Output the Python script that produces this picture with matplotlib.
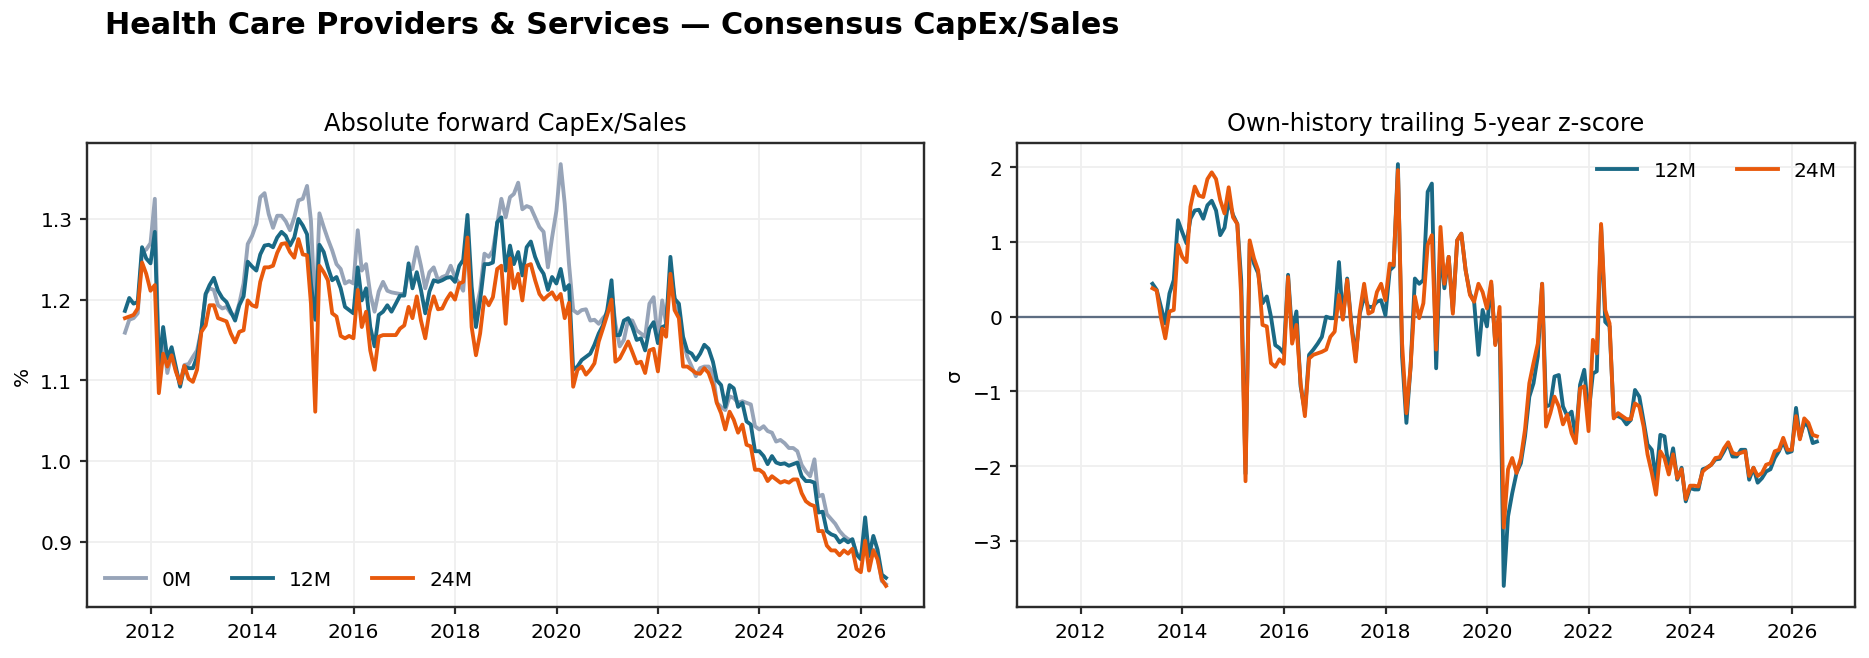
import numpy as np
import pandas as pd
import matplotlib
matplotlib.use("Agg")
import matplotlib.pyplot as plt
import matplotlib.dates as mdates

# forward CapEx/Sales (%), monthly, Jun-2011 .. Jun-2026
capex_0m = [
    1.159, 1.175, 1.177, 1.183, 1.260, 1.262, 1.270, 1.325, 1.117, 1.154,
    1.109, 1.133, 1.113, 1.096, 1.119, 1.120, 1.129, 1.137, 1.162, 1.207,
    1.214, 1.212, 1.193, 1.189, 1.191, 1.183, 1.179, 1.195, 1.220, 1.269,
    1.279, 1.294, 1.327, 1.332, 1.306, 1.289, 1.304, 1.304, 1.297, 1.286,
    1.302, 1.323, 1.325, 1.341, 1.298, 1.179, 1.307, 1.290, 1.275, 1.261,
    1.244, 1.238, 1.220, 1.223, 1.220, 1.286, 1.236, 1.244, 1.207, 1.185,
    1.210, 1.222, 1.211, 1.209, 1.208, 1.207, 1.207, 1.236, 1.238, 1.265,
    1.242, 1.214, 1.234, 1.240, 1.224, 1.228, 1.230, 1.242, 1.228, 1.220,
    1.211, 1.277, 1.195, 1.187, 1.211, 1.257, 1.253, 1.261, 1.294, 1.325,
    1.302, 1.327, 1.331, 1.345, 1.312, 1.316, 1.314, 1.302, 1.290, 1.284,
    1.240, 1.277, 1.310, 1.368, 1.319, 1.244, 1.187, 1.183, 1.187, 1.188,
    1.174, 1.175, 1.170, 1.177, 1.183, 1.211, 1.170, 1.142, 1.150, 1.175,
    1.174, 1.162, 1.158, 1.154, 1.195, 1.203, 1.150, 1.199, 1.170, 1.236,
    1.203, 1.183, 1.148, 1.129, 1.117, 1.105, 1.115, 1.117, 1.117, 1.109,
    1.072, 1.067, 1.063, 1.080, 1.078, 1.072, 1.074, 1.072, 1.070, 1.043,
    1.039, 1.043, 1.037, 1.035, 1.024, 1.026, 1.022, 1.016, 1.016, 1.012,
    0.995, 0.987, 0.981, 1.002, 0.956, 0.958, 0.934, 0.928, 0.922, 0.913,
    0.907, 0.903, 0.901, 0.886, 0.880, 0.903, 0.886, 0.890, 0.882, 0.851,
    0.847,
]
capex_12m = [
    1.186, 1.202, 1.195, 1.197, 1.265, 1.251, 1.245, 1.284, 1.117, 1.166,
    1.127, 1.141, 1.117, 1.092, 1.117, 1.115, 1.115, 1.129, 1.162, 1.207,
    1.218, 1.227, 1.211, 1.202, 1.197, 1.185, 1.174, 1.193, 1.204, 1.247,
    1.241, 1.236, 1.256, 1.267, 1.268, 1.265, 1.277, 1.284, 1.279, 1.267,
    1.277, 1.300, 1.292, 1.281, 1.220, 1.175, 1.268, 1.259, 1.240, 1.224,
    1.228, 1.214, 1.191, 1.187, 1.183, 1.240, 1.199, 1.214, 1.166, 1.142,
    1.181, 1.185, 1.193, 1.185, 1.195, 1.205, 1.205, 1.245, 1.214, 1.234,
    1.212, 1.183, 1.210, 1.224, 1.222, 1.224, 1.227, 1.228, 1.222, 1.242,
    1.249, 1.305, 1.216, 1.166, 1.199, 1.244, 1.244, 1.246, 1.296, 1.302,
    1.236, 1.267, 1.244, 1.259, 1.230, 1.265, 1.272, 1.253, 1.240, 1.232,
    1.212, 1.228, 1.220, 1.238, 1.212, 1.218, 1.113, 1.117, 1.125, 1.129,
    1.133, 1.144, 1.158, 1.168, 1.187, 1.224, 1.156, 1.156, 1.174, 1.177,
    1.166, 1.150, 1.152, 1.137, 1.164, 1.172, 1.146, 1.166, 1.168, 1.253,
    1.201, 1.195, 1.154, 1.136, 1.133, 1.125, 1.133, 1.144, 1.139, 1.123,
    1.100, 1.094, 1.067, 1.094, 1.090, 1.067, 1.072, 1.049, 1.045, 1.012,
    1.012, 1.006, 0.996, 1.006, 0.998, 0.996, 0.997, 0.994, 0.996, 0.998,
    0.981, 0.975, 0.975, 0.973, 0.936, 0.937, 0.913, 0.909, 0.907, 0.899,
    0.903, 0.899, 0.903, 0.884, 0.878, 0.930, 0.882, 0.907, 0.890, 0.859,
    0.855,
]
capex_24m = [
    1.177, 1.179, 1.181, 1.189, 1.246, 1.232, 1.211, 1.218, 1.084, 1.133,
    1.117, 1.131, 1.111, 1.096, 1.118, 1.102, 1.098, 1.113, 1.160, 1.168,
    1.193, 1.193, 1.177, 1.175, 1.173, 1.158, 1.147, 1.160, 1.162, 1.199,
    1.193, 1.191, 1.222, 1.240, 1.240, 1.242, 1.258, 1.269, 1.270, 1.259,
    1.252, 1.275, 1.256, 1.255, 1.195, 1.061, 1.242, 1.234, 1.224, 1.183,
    1.179, 1.155, 1.152, 1.155, 1.152, 1.212, 1.166, 1.185, 1.137, 1.113,
    1.154, 1.156, 1.156, 1.156, 1.156, 1.164, 1.168, 1.191, 1.177, 1.204,
    1.174, 1.152, 1.185, 1.204, 1.188, 1.189, 1.200, 1.208, 1.200, 1.220,
    1.222, 1.277, 1.166, 1.131, 1.158, 1.203, 1.193, 1.203, 1.238, 1.242,
    1.170, 1.251, 1.214, 1.232, 1.199, 1.242, 1.244, 1.224, 1.207, 1.200,
    1.205, 1.209, 1.200, 1.207, 1.177, 1.196, 1.092, 1.113, 1.117, 1.107,
    1.113, 1.121, 1.148, 1.164, 1.181, 1.200, 1.123, 1.127, 1.137, 1.148,
    1.135, 1.121, 1.123, 1.109, 1.137, 1.139, 1.111, 1.164, 1.154, 1.232,
    1.187, 1.177, 1.117, 1.117, 1.113, 1.109, 1.108, 1.115, 1.109, 1.094,
    1.072, 1.059, 1.039, 1.061, 1.051, 1.035, 1.045, 1.020, 1.018, 0.989,
    0.989, 0.985, 0.975, 0.981, 0.977, 0.973, 0.975, 0.973, 0.977, 0.977,
    0.960, 0.950, 0.946, 0.944, 0.913, 0.913, 0.895, 0.889, 0.889, 0.883,
    0.889, 0.885, 0.891, 0.866, 0.862, 0.901, 0.864, 0.889, 0.878, 0.853,
    0.845,
]

# trailing 5y z-score, starts May-2013
z_12m = [
    0.44, 0.36, 0.13, -0.09, 0.31, 0.49, 1.29,
    1.13, 0.98, 1.31, 1.42, 1.43, 1.31, 1.49, 1.55, 1.42, 1.09,
    1.19, 1.56, 1.36, 1.24, 0.49, -2.10, 0.98, 0.71, 0.58, 0.18,
    0.27, 0.00, -0.38, -0.42, -0.49, 0.56, -0.22, 0.07, -0.93, -1.27,
    -0.51, -0.44, -0.36, -0.27, 0.00, -0.02, -0.02, 0.73, -0.02, 0.51,
    -0.09, -0.53, 0.04, 0.27, 0.13, 0.13, 0.20, 0.22, 0.02, 0.62,
    0.67, 2.04, -0.53, -1.42, -0.67, 0.51, 0.44, 0.49, 1.67, 1.78,
    -0.69, 0.93, 0.38, 0.80, 0.07, 1.02, 1.11, 0.62, 0.31, 0.20,
    -0.51, 0.09, -0.13, 0.44, -0.36, -0.09, -3.60, -2.67, -2.36, -2.09,
    -1.96, -1.60, -1.07, -0.89, -0.53, 0.44, -1.20, -1.18, -0.80, -0.78,
    -1.20, -1.33, -1.27, -1.62, -0.91, -0.71, -1.30, -0.76, -0.73, 1.22,
    -0.07, -0.13, -1.33, -1.33, -1.36, -1.44, -1.38, -0.98, -1.07, -1.40,
    -1.71, -1.78, -2.18, -1.58, -1.60, -2.04, -1.76, -2.18, -2.02, -2.47,
    -2.29, -2.31, -2.31, -2.04, -2.02, -1.98, -1.91, -1.90, -1.80, -1.69,
    -1.87, -1.87, -1.78, -1.78, -2.18, -2.02, -2.22, -2.16, -2.07, -2.04,
    -1.89, -1.80, -1.67, -1.82, -1.80, -1.22, -1.62, -1.42, -1.47, -1.69,
    -1.67,
]
z_24m = [
    0.38, 0.35, -0.02, -0.29, 0.07, 0.09, 0.96,
    0.80, 0.73, 1.47, 1.74, 1.62, 1.60, 1.84, 1.93, 1.84, 1.56,
    1.38, 1.73, 1.33, 1.24, 0.27, -2.20, 1.02, 0.78, 0.62, -0.11,
    -0.13, -0.62, -0.67, -0.57, -0.63, 0.53, -0.36, -0.11, -0.89, -1.33,
    -0.56, -0.51, -0.49, -0.47, -0.44, -0.27, -0.20, 0.29, -0.04, 0.49,
    -0.13, -0.60, 0.07, 0.44, 0.04, 0.07, 0.33, 0.44, 0.22, 0.71,
    0.69, 1.96, -0.36, -1.29, -0.67, 0.27, -0.02, 0.18, 0.96, 1.09,
    -0.44, 1.20, 0.44, 0.80, 0.04, 1.02, 1.11, 0.62, 0.29, 0.20,
    0.44, 0.33, 0.11, 0.47, -0.38, 0.13, -2.82, -2.04, -1.89, -2.09,
    -1.89, -1.51, -0.89, -0.62, -0.36, 0.44, -1.47, -1.29, -1.07, -1.20,
    -1.44, -1.31, -1.56, -1.69, -0.96, -0.93, -1.53, -0.31, -0.49, 1.24,
    0.09, -0.09, -1.36, -1.29, -1.33, -1.37, -1.37, -1.16, -1.20, -1.47,
    -1.84, -2.09, -2.38, -1.80, -1.89, -2.11, -1.84, -2.16, -2.04, -2.44,
    -2.26, -2.26, -2.27, -2.07, -2.02, -1.98, -1.89, -1.88, -1.76, -1.68,
    -1.82, -1.84, -1.82, -1.80, -2.13, -2.02, -2.13, -2.09, -1.98, -1.96,
    -1.80, -1.78, -1.62, -1.78, -1.78, -1.33, -1.64, -1.36, -1.42, -1.58,
    -1.60,
]

dates = pd.date_range("2011-06-30", periods=len(capex_0m), freq="ME")
zdates = dates[len(dates) - len(z_12m):]

c_0m = "#97a4b8"
c_12m = "#1a6985"
c_24m = "#e8590c"
spine_c = "#2b2b2b"

plt.rcParams["font.family"] = "DejaVu Sans"

fig = plt.figure(figsize=(12.46, 4.393), dpi=150)
ax1 = fig.add_axes([0.0465, 0.0774, 0.4479, 0.7041])
ax2 = fig.add_axes([0.5441, 0.0774, 0.4484, 0.7041], sharex=ax1)

for ax in (ax1, ax2):
    ax.grid(True, color="#efefef", lw=0.85)
    ax.set_axisbelow(True)
    for s in ax.spines.values():
        s.set_color(spine_c)
        s.set_linewidth(1.15)
    ax.tick_params(colors=spine_c, labelcolor="black", labelsize=9.7, width=1.05)

lw = 1.85
ax1.plot(dates, capex_0m, color=c_0m, lw=lw, label="0M")
ax1.plot(dates, capex_12m, color=c_12m, lw=lw, label="12M")
ax1.plot(dates, capex_24m, color=c_24m, lw=lw, label="24M")
ax1.set_title("Absolute forward CapEx/Sales", fontsize=11.6)
ax1.set_ylabel("%", fontsize=9.7)
ax1.legend(loc="lower left", ncol=3, frameon=False, fontsize=9.7)

ax2.axhline(0, color="#5d6d82", lw=1.1)
ax2.plot(zdates, z_12m, color=c_12m, lw=lw, label="12M")
ax2.plot(zdates, z_24m, color=c_24m, lw=lw, label="24M")
ax2.set_title("Own-history trailing 5-year z-score", fontsize=11.6)
ax2.set_ylabel("σ", fontsize=9.7)
ax2.legend(loc="upper right", ncol=2, frameon=False, fontsize=9.7)

ax1.xaxis.set_major_locator(mdates.YearLocator(2))
ax1.xaxis.set_major_formatter(mdates.DateFormatter("%Y"))

fig.text(0.056, 0.962, "Health Care Providers & Services \u2014 Consensus CapEx/Sales",
         fontsize=14.5, fontweight="bold", va="center", ha="left")

fig.savefig("out.png", dpi=150)
